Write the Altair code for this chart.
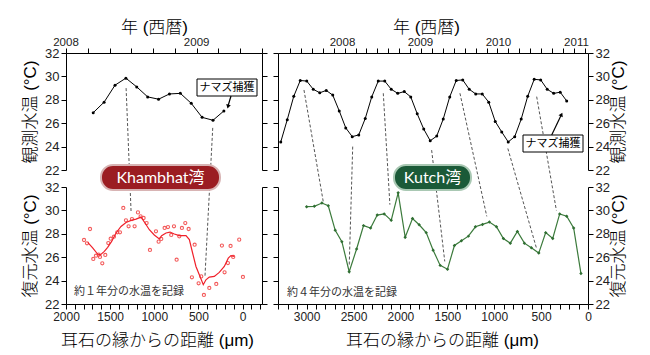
import altair as alt
import pandas as pd

# ---------------- data ----------------
# Observed monthly water temperature (°C)
kh_obs_months = pd.period_range("2008-03", "2009-03", freq="M").strftime("%Y-%m").tolist()
kh_obs_temp = [26.9, 27.8, 29.25, 29.85, 29.1, 28.25, 28.05, 28.5, 28.55, 27.7, 26.5, 26.25, 27.05]

ku_obs_months = pd.period_range("2007-03", "2010-11", freq="M").strftime("%Y-%m").tolist()
ku_obs_temp = [24.4, 26.3, 28.3, 29.65, 29.6, 28.9, 28.6, 28.8, 28.4, 27.05, 25.6, 24.85,
               25.0, 26.4, 28.25, 29.6, 29.6, 28.9, 28.55, 28.7, 28.25, 26.8, 25.5, 24.5,
               24.9, 26.35, 28.25, 29.65, 29.7, 28.9, 28.5, 28.5, 27.8, 26.15, 25.25, 24.4,
               24.85, 26.35, 28.3, 29.75, 29.7, 28.9, 28.55, 28.65, 27.9]

# Reconstructed temperature, Khambhat (scatter + smoothed line)
kh_rec_um = [1796, 1762, 1728, 1691, 1660, 1630, 1615, 1589, 1555, 1521, 1494, 1457, 1419, 1389, 1351,
             1321, 1291, 1253, 1223, 1185, 1155, 1121, 1087, 1049, 981, 951, 921, 883, 845, 808,
             777, 747, 717, 687, 649, 611, 574, 543, 498, 468, 438, 377, 298, 234, 204,
             166, 136, 106, 38, -4]
kh_rec_t = [27.47, 27.19, 28.41, 25.85, 26.13, 26.22, 26.02, 25.48, 26.19, 27.21, 27.58, 27.75, 28.13, 28.13, 30.21,
            29.15, 28.64, 29.26, 28.64, 29.83, 29.49, 29.35, 28.92, 26.62, 28.21, 27.33, 27.56, 28.5, 28.58, 27.9,
            28.64, 25.79, 27.78, 28.5, 28.92, 28.41, 24.28, 27.07, 23.77, 24.36, 22.77, 23.37, 23.71, 26.99, 24.71,
            25.5, 26.96, 26.02, 27.5, 24.31]
kh_fit_um = [1754, 1698, 1642, 1611, 1566, 1528, 1483, 1433, 1377, 1320, 1263, 1207, 1150, 1105, 1056,
             1000, 943, 917, 867, 822, 773, 717, 641, 603, 566, 528, 490, 445, 415, 377,
             320, 264, 207, 162, 132, 94]
kh_fit_t = [27.27, 26.79, 26.27, 26.2, 26.5, 26.84, 27.35, 28.07, 28.63, 28.97, 29.15, 29.26, 29.43, 28.92, 28.35,
            27.9, 27.56, 27.84, 28.07, 28.15, 27.98, 27.84, 27.84, 27.5, 26.36, 25.21, 24.5, 23.65, 24.07, 24.3,
            24.36, 24.7, 25.21, 25.92, 26.13, 26.07]

# Reconstructed temperature, Kutch
ku_rec_um = [3000, 2918, 2837, 2769, 2695, 2624, 2546, 2467, 2393, 2318, 2247, 2173, 2098, 2024, 1949,
             1871, 1800, 1725, 1651, 1576, 1498, 1424, 1349, 1275, 1200, 1125, 1051, 976, 902, 828,
             753, 678, 604, 525, 451, 376, 302, 227, 153, 75]
ku_rec_t = [30.32, 30.35, 30.63, 30.4, 28.3, 27.33, 24.76, 26.7, 28.7, 28.5, 29.6, 29.7, 29.15, 31.5, 27.7,
            29.3, 28.77, 28.1, 26.6, 25.3, 24.97, 27.0, 27.4, 27.8, 28.6, 28.8, 29.0, 28.6, 27.6, 27.2,
            28.2, 27.2, 26.8, 26.35, 28.1, 27.6, 29.7, 29.5, 28.5, 24.6]

# Correspondence links: observed (year, temp) -> reconstructed (distance, temp)
kh_link_top_year = [2008.46, 2009.123]
kh_link_top_t = [29.0, 25.6]
kh_link_bot_um = [1263, 426]
kh_link_bot_t = [29.9, 24.36]

ku_link_top_year = [2007.506, 2008.131, 2008.523, 2009.143, 2009.506, 2010.12, 2010.49]
ku_link_top_t = [28.84, 24.0, 28.56, 23.7, 28.56, 23.84, 28.27]
ku_link_bot_um = [2823, 2546, 2112, 1527, 1079, 550, 337]
ku_link_bot_t = [30.77, 25.2, 30.49, 25.64, 29.49, 26.79, 30.0]

# Axis tick values / labels
kh_year_labels = [2008, 2009]
ku_year_labels = [2008, 2009, 2010, 2011]
kh_year_ticks = [2008 + k / 6 for k in range(10)]
ku_year_ticks = [round(2007.327 + 0.14 * k, 3) for k in range(28)]
y_ticks = [22, 24, 26, 28, 30, 32]
kh_um_ticks = list(range(-200, 2001, 100))
ku_um_ticks = list(range(0, 3301, 100))

# ---------------- layout constants ----------------
NUM_FONT = "Liberation Sans"
TXT_FONT = "Liberation Sans, Noto Sans CJK JP"
JP_FONT = "Noto Sans CJK JP"
BADGE_FONT = "Lato, Noto Sans CJK JP"
TITLE_W = 300

W_L, W_R, H = 196, 310, 117
GAP_X, GAP_Y = 16, 17
Y_DOM = [22, 32]
KH_YEAR_DOM = [2008.0, 2009.5]
KU_YEAR_DOM = [2007.173, 2011.148]
KH_UM_DOM = [2000, -220]   # left edge -> right edge
KU_UM_DOM = [3305, 0]


def lin(dom):
    return alt.Scale(domain=sorted(dom), reverse=bool(dom[0] > dom[1]), nice=False, zero=False)


def dec_year(ym):
    y, m = ym.split("-")
    return int(y) + (int(m) - 0.5) / 12


def links_df(top_year, top_t, bot_um, bot_t, year_dom, um_dom):
    # express the lower end (in the lower panel's data) in the upper panel's data space
    rows = []
    for ya, ta, ub, tb in zip(top_year, top_t, bot_um, bot_t):
        frac = (um_dom[0] - ub) / (um_dom[0] - um_dom[1])
        yb = year_dom[0] + frac * (year_dom[1] - year_dom[0])
        tb_top = tb - (H + GAP_Y) / H * (Y_DOM[1] - Y_DOM[0])
        rows.append({"x0": ya, "y0": ta, "x1": yb, "y1": tb_top})
    return pd.DataFrame(rows)


def yaxis(orient, labeled, title=None, title_x=0):
    kw = dict(orient=orient, values=y_ticks, grid=False, tickSize=5, tickColor="black", tickWidth=1,
              domainColor="black", domainWidth=1)
    if labeled:
        kw.update(labelFont=NUM_FONT, labelFontSize=13, labelColor="#222", labelPadding=2,
                  title=title, titleFont=TXT_FONT, titleFontSize=17, titleFontWeight=TITLE_W,
                  titleColor="black", titleAngle=270, titleX=title_x, titleBaseline="middle",
                  titleAlign="center")
    else:
        kw.update(labels=False, title=None)
    return alt.Axis(**kw)


def top_axis(ticks, title_x):
    return alt.Axis(orient="top", values=ticks, labels=False, grid=False, tickSize=5, tickColor="black",
                    domainColor="black", title="年 (西暦)", titleFont=TXT_FONT, titleFontSize=17,
                    titleFontWeight=TITLE_W, titleColor="black", titleX=title_x, titleY=-26,
                    titleBaseline="middle", titleAlign="center")


def bottom_axis(ticks, title_x):
    return alt.Axis(orient="bottom", values=ticks, grid=False, tickSize=5, tickColor="black",
                    domainColor="black",
                    labelExpr="datum.value % 500 === 0 ? format(datum.value, 'd') : ''",
                    labelOverlap=False, labelFlush=False, labelFont=NUM_FONT, labelFontSize=12,
                    labelColor="#222", labelPadding=2,
                    title="耳石の縁からの距離 (μm)", titleFont=TXT_FONT, titleFontSize=17,
                    titleFontWeight=TITLE_W, titleColor="black", titleX=title_x, titleY=36,
                    titleBaseline="middle", titleAlign="center")


one = pd.DataFrame({"a": [0]})


def badge(label, x0, x1, y0, y1, fill, stroke):
    rect = alt.Chart(one).mark_rect(cornerRadius=12, fill=fill, stroke=stroke, strokeWidth=2).encode(
        x=alt.value(x0), x2=alt.value(x1), y=alt.value(y0), y2=alt.value(y1))
    txt = alt.Chart(one).mark_text(text=label, font=BADGE_FONT, fontSize=16, color="white",
                                   baseline="middle", align="center").encode(
        x=alt.value((x0 + x1) / 2), y=alt.value((y0 + y1) / 2 + 0.5))
    return [rect, txt]


def catch_note(x0, x1, y0, y1, ax0, ay0, ax1, ay1, hx, hy, ang):
    box = alt.Chart(one).mark_rect(fill="white", stroke="black", strokeWidth=1).encode(
        x=alt.value(x0), x2=alt.value(x1), y=alt.value(y0), y2=alt.value(y1))
    txt = alt.Chart(one).mark_text(text="ナマズ捕獲", font=JP_FONT, fontSize=11, color="black",
                                   baseline="middle", align="center").encode(
        x=alt.value((x0 + x1) / 2), y=alt.value((y0 + y1) / 2))
    shaft = alt.Chart(one).mark_rule(color="black", strokeWidth=1.2).encode(
        x=alt.value(ax0), y=alt.value(ay0), x2=alt.value(ax1), y2=alt.value(ay1))
    head = alt.Chart(one).mark_point(shape="triangle-up", filled=True, size=22, color="black",
                                     opacity=1, angle=ang).encode(x=alt.value(hx), y=alt.value(hy))
    return [box, txt, shaft, head]


def top_panel(months, temps, links, year_labels, ticks, xdom, width, labeled_side, title_x_top, extras):
    obs = pd.DataFrame({"yr": [dec_year(m) for m in months], "t": temps})
    yl = pd.DataFrame({"yr": year_labels, "lab": [str(v) for v in year_labels]})
    xs, ys = lin(xdom), lin(Y_DOM)
    conn = alt.Chart(links).mark_rule(color="#555", strokeWidth=1, strokeDash=[3, 2]).encode(
        x=alt.X("x0:Q", scale=xs, axis=None), x2="x1:Q",
        y=alt.Y("y0:Q", scale=ys, axis=None), y2="y1:Q")
    line = alt.Chart(obs).mark_line(color="black", strokeWidth=1).encode(
        x=alt.X("yr:Q", scale=xs, axis=top_axis(ticks, title_x_top)),
        y=alt.Y("t:Q", scale=ys, axis=yaxis("left", labeled_side == "left", "観測水温 (°C)", -36)))
    pts = alt.Chart(obs).mark_circle(color="black", size=9, opacity=1).encode(
        x=alt.X("yr:Q", scale=xs, axis=None),
        y=alt.Y("t:Q", scale=ys, axis=yaxis("right", labeled_side == "right", "観測水温 (°C)", 30)))
    labs = alt.Chart(yl).mark_text(font=NUM_FONT, fontSize=11.5, color="#222", baseline="middle").encode(
        x=alt.X("yr:Q", scale=xs, axis=None), y=alt.value(-10.5), text="lab:N")
    return alt.layer(conn, line, pts, labs, *extras).resolve_axis(
        x="independent", y="independent").properties(width=width, height=H)


def text_note(label, x, y):
    return alt.Chart(one).mark_text(text=label, font=JP_FONT, fontSize=11, color="#333",
                                    align="left", baseline="middle").encode(x=alt.value(x), y=alt.value(y))


# ---------------- panels ----------------
kh_links = links_df(kh_link_top_year, kh_link_top_t, kh_link_bot_um, kh_link_bot_t, KH_YEAR_DOM, KH_UM_DOM)
ku_links = links_df(ku_link_top_year, ku_link_top_t, ku_link_bot_um, ku_link_bot_t, KU_YEAR_DOM, KU_UM_DOM)

tl = top_panel(kh_obs_months, kh_obs_temp, kh_links, kh_year_labels, kh_year_ticks, KH_YEAR_DOM, W_L,
               "left", 88,
               catch_note(131, 191, 26, 43, 165, 43, 162, 53, 162, 53.5, 195)
               + badge("Khambhat湾", 35, 154, 112, 137, "#9b1d22", "#d8b4b4"))

tr = top_panel(ku_obs_months, ku_obs_temp, ku_links, ku_year_labels, ku_year_ticks, KU_YEAR_DOM, W_R,
               "right", 148,
               catch_note(245, 305, 82, 99, 273.7, 82, 283, 62.5, 283.5, 61.5, 25)
               + badge("Kutch湾", 116, 193, 112, 137, "#1b5a38", "#a9c8b3"))

# bottom-left (Khambhat reconstructed)
kh_sc = pd.DataFrame({"um": kh_rec_um, "t": kh_rec_t})
kh_fit = pd.DataFrame({"um": kh_fit_um, "t": kh_fit_t})
xs_bl, ys = lin(KH_UM_DOM), lin(Y_DOM)
bl = alt.layer(
    alt.Chart(kh_sc).mark_point(shape="circle", filled=False, size=10, strokeWidth=1.1,
                                color="#f24a4a", opacity=0.9).encode(
        x=alt.X("um:Q", scale=xs_bl, axis=bottom_axis(kh_um_ticks, 91)),
        y=alt.Y("t:Q", scale=ys, axis=yaxis("left", True, "復元水温 (°C)", -36))),
    alt.Chart(kh_fit).mark_line(color="#f0202a", strokeWidth=1.2).encode(
        x=alt.X("um:Q", scale=xs_bl, axis=None),
        y=alt.Y("t:Q", scale=ys, axis=yaxis("right", False))),
    text_note("約１年分の水温を記録", 8, 105),
).resolve_axis(x="independent", y="independent").properties(width=W_L, height=H)

# bottom-right (Kutch reconstructed)
ku_df = pd.DataFrame({"um": ku_rec_um, "t": ku_rec_t})
xs_br = lin(KU_UM_DOM)
br = alt.layer(
    alt.Chart(ku_df).mark_line(color="#3b7a3b", strokeWidth=1.2).encode(
        x=alt.X("um:Q", scale=xs_br, axis=bottom_axis(ku_um_ticks, 164)),
        y=alt.Y("t:Q", scale=ys, axis=yaxis("left", False))),
    alt.Chart(ku_df).mark_point(shape="diamond", filled=True, size=12, color="#2f6e32", opacity=1).encode(
        x=alt.X("um:Q", scale=xs_br, axis=None),
        y=alt.Y("t:Q", scale=ys, axis=yaxis("right", True, "復元水温 (°C)", 30))),
    text_note("約４年分の水温を記録", 9, 105.5),
).resolve_axis(x="independent", y="independent").properties(width=W_R, height=H)

chart = alt.concat(
    tl, tr, bl, br, columns=2, spacing={"row": GAP_Y, "column": GAP_X}, bounds="flush", align="each"
).properties(
    padding={"left": 13, "top": 10, "right": 5, "bottom": 5}
).configure(background="white").configure_view(strokeWidth=0)

chart.save("out.html", embed_options={"renderer": "svg", "actions": False})
